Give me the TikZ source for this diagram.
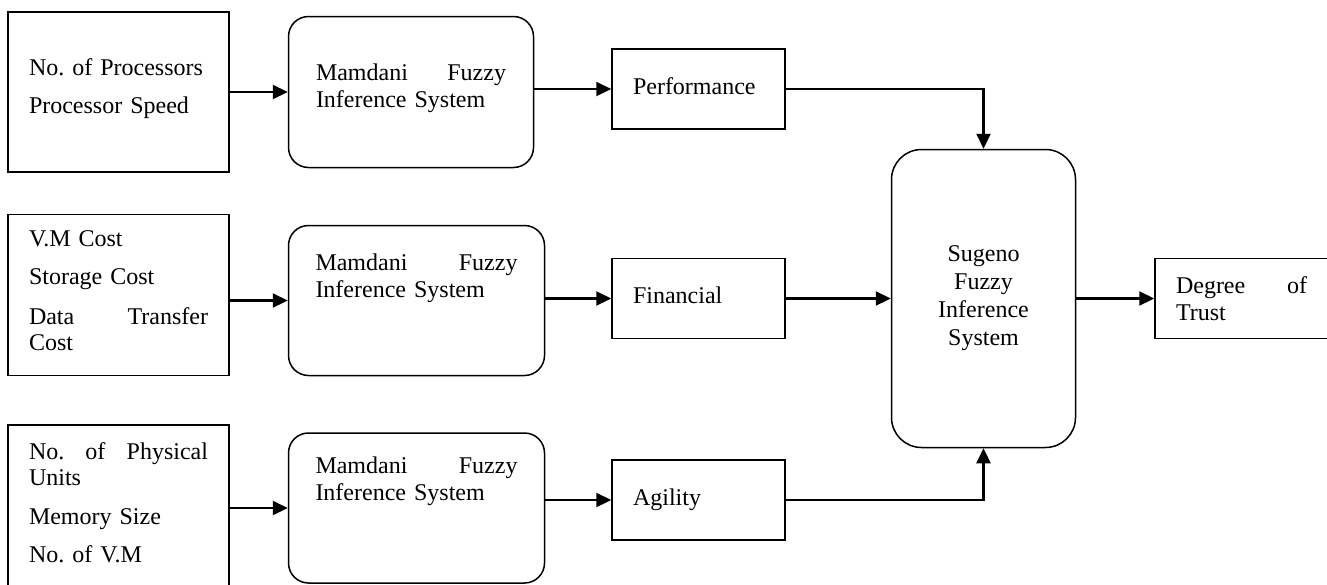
\documentclass[tikz,border=0pt]{standalone}
\usepackage{fontspec}
\setmainfont{Liberation Serif}
\frenchspacing
\usetikzlibrary{arrows.meta,positioning}
\tikzset{
    %Define standard arrow tip
    >={Triangle[length=7.5pt,width=7pt]},
    %Define style for boxes
    inbox/.style={
           rectangle,
           draw=black, line width=0.75pt,
           minimum width=110.5pt,
           text width=89.5pt,
           align=left,
           font=\fontsize{12pt}{13pt}\selectfont},
    mamdani/.style={
           rectangle,
           rounded corners=10pt,
           draw=black, line width=0.75pt,
           minimum height=75pt,
           align=left,
           font=\fontsize{12pt}{13.5pt}\selectfont},
    outbox/.style={
           rectangle,
           draw=black, line width=0.75pt,
           minimum width=86.5pt,
           minimum height=40pt,
           text width=65.5pt,
           align=left,
           font=\fontsize{12pt}{13.5pt}\selectfont},
    sugeno/.style={
           rectangle,
           rounded corners=15pt,
           draw=black, line width=0.75pt,
           minimum width=92pt,
           minimum height=149pt,
           align=center,
           font=\fontsize{12pt}{14pt}\selectfont},
    % Define arrow style
    pil/.style={
           ->,
           line width=1.1pt}
}

\begin{document}
\begin{tikzpicture}[pil, node distance=29pt]
\useasboundingbox (0,0) rectangle (663.5pt,-292pt);
 %nodes
\node[inbox, minimum height=80pt, text depth=25pt] (in1) at (59.25pt,-46pt)
  {No. of Processors\\[6pt]Processor Speed};
\node[inbox, minimum height=80.5pt, text depth=56pt, below=20.5pt of in1] (in2)
  {V.M Cost\\[6pt]Storage Cost\\[7pt]Data\hfill Transfer\\Cost};
\node[inbox, minimum height=83pt, text depth=57pt, below=24pt of in2] (in3)
  {No.\hfill of\hfill Physical\\Units\\[6.5pt]Memory Size\\[6pt]No. of V.M};
\node[mamdani, minimum width=122.5pt, minimum height=75.5pt, text width=95pt,
  text depth=20pt, right=of in1] (mam1) {Mamdani\hfill Fuzzy\\Inference System};
\node[mamdani, minimum width=128pt, text width=101pt, text depth=38pt,
  right=of in2, yshift=-2.75pt] (mam2) {Mamdani\hfill Fuzzy\\Inference System};
\node[mamdani, minimum width=128pt, text width=101pt, text depth=43pt,
  right=of in3] (mam3) {Mamdani\hfill Fuzzy\\Inference System};
\node[outbox, text depth=3pt, right=38.5pt of mam1, yshift=1.5pt] (perf) {Performance};
\node[outbox, text depth=3pt, right=33pt of mam2, yshift=1pt] (fin) {Financial};
\node[outbox, text depth=3pt, right=33pt of mam3, yshift=4pt] (agi) {Agility};
\node[sugeno, right=52.5pt of fin] (sug) {Sugeno\\Fuzzy\\Inference\\System};
\node[outbox, right=39pt of sug] (deg) {Degree\hfill of\\Trust};
 %arrows
\path (in1) edge (mam1)
  (mam1.east |- perf.west) edge (perf.west)
  (in2.east |- mam2.west) edge (mam2.west)
  (mam2.east |- fin.west) edge (fin.west)
  (fin) edge (sug)
  (sug) edge (deg)
  (in3) edge (mam3)
  (mam3.east |- agi.west) edge (agi.west);
\draw (perf.east) -| (sug.north);
\draw (agi.east) -| (sug.south);
\end{tikzpicture}
\end{document}
